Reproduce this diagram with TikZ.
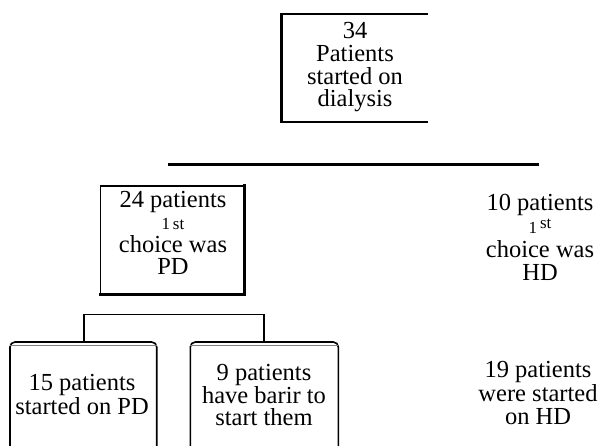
\documentclass[tikz,border=0pt]{standalone}
\usepackage{fontspec}
\setmainfont{Liberation Serif}
\begin{document}
\begin{tikzpicture}[x=1pt,y=-1pt,
  edge/.style={line width=1.6pt},
  heavy/.style={line width=2.6pt},
  txt/.style={anchor=north,inner sep=0pt,align=center}]
\useasboundingbox (0,0) rectangle (607,446);
% top box (open on the right)
\draw[edge] (428,14.3) -- (281.3,14.3);
\draw[heavy,line cap=rect] (281.3,14.3) -- (281.3,122);
\draw[line width=2.1pt] (281.3,122) -- (428,122);
\node[txt,font=\fontsize{24.5}{22.7}\selectfont] (top) at (355,22.3) {34\\Patients\\started on\\dialysis};
% long horizontal line
\draw[line width=2.3pt] (168,164.5) coordinate (hl) -- (539,164.5) coordinate (hr);
% 24 patients box
\draw[edge] (244.5,186) -- (100.6,186) -- (100.6,294);
\draw[line width=3pt,line cap=rect] (244.8,186) -- (244.8,294) -- (100.6,294);
\node[txt,font=\fontsize{24.5}{22.4}\selectfont] (pd) at (173,191) {24 patients\\{\fontsize{17}{17}\selectfont 1\,st\hspace{14pt}}\\choice was\\PD};
% 10 patients text
\node[txt,font=\fontsize{24.5}{23.2}\selectfont] (hd) at (540,194.3) {10 patients\\{\fontsize{17}{17}\selectfont 1\,\raisebox{5pt}{st}\hspace{5pt}}\\choice was\\HD};
% bottom boxes
\coordinate (a15) at (83.7,342);
\coordinate (a9) at (264,342);
\draw[edge,rounded corners=5pt] (10,446) -- (10,342) -- (156.7,342) -- (156.7,446);
\draw[line width=0.5pt,gray] (10,345.5) -- (156.7,345.5);
\draw[edge,rounded corners=5pt] (190.3,446) -- (190.3,342) -- (338.3,342) -- (338.3,446);
\draw[line width=0.5pt,gray] (190.3,345.5) -- (338.3,345.5);
% bracket
\draw[edge] (a15) -- (83.7,314.5) -- (264,314.5) -- (a9);
\node[txt,font=\fontsize{24.5}{24}\selectfont] (b15) at (82,374.3) {15 patients\\started on PD};
\node[txt,font=\fontsize{24.5}{22.4}\selectfont] (b9) at (264,364.5) {9 patients\\have barir to\\start them};
\node[txt,font=\fontsize{24.5}{23.5}\selectfont] (b19) at (538,361.3) {19 patients\\were started\\on HD};
\end{tikzpicture}
\end{document}
